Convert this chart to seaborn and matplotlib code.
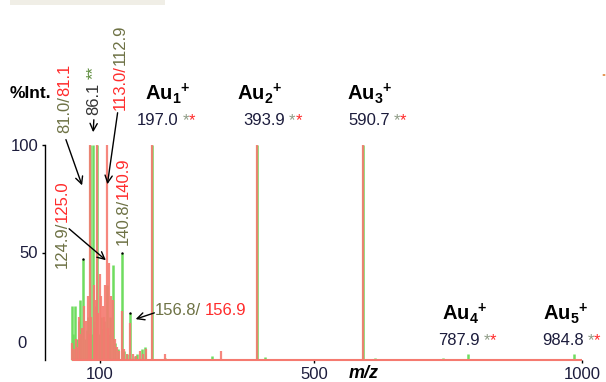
import matplotlib
matplotlib.use("Agg")
import numpy as np
import pandas as pd
import matplotlib.pyplot as plt
from matplotlib.patches import Rectangle, Circle
import seaborn as sns

# -------------------------
# spectra (m/z, %Int.)
# -------------------------
green_mz = [48, 50, 54, 57, 60, 62, 65, 68.3, 72, 75, 78, 81.0, 84, 86.1, 89, 92, 95, 98, 101, 104,
            108, 112.9, 116, 118, 124.9, 128, 133, 140.8, 145, 150, 156.8, 165, 170, 178, 184,
            197.0, 221, 310, 393.9, 408, 590.7, 614, 741, 787.9, 984.8]
green_int = [25, 12, 25, 10, 18, 28, 15, 47, 10, 14, 20, 100, 12, 100, 18, 25, 100, 12, 20, 15,
             18, 35, 12, 20, 44, 8, 5, 50, 4, 3, 22, 2, 3, 5, 6,
             100, 1, 2, 100, 1.5, 100, 1, 1, 3, 3]

red_mz = [48, 51, 55, 58, 60, 63, 66, 71, 74, 77, 79, 81.1, 83, 88, 90, 93, 95, 97, 100, 102,
          105, 107, 110, 113.0, 115, 117, 121, 125.0, 128, 132, 136, 140.9, 145, 150, 156.9,
          162, 168, 175, 180, 186, 197.0, 222, 326, 393.9, 590.7]
red_int = [8, 5, 10, 6, 20, 12, 15, 25, 18, 30, 12, 100, 20, 35, 15, 28, 100, 22, 40, 30,
           25, 20, 35, 100, 15, 45, 30, 28, 10, 6, 4, 23, 5, 3, 17,
           3, 2, 4, 3, 5, 100, 3, 4, 100, 100]

scan_range = [48, 1000]
dotted_peaks = [68.3, 140.8, 156.8]

au_n = [1, 2, 3, 4, 5]
au_mz = ["197.0", "393.9", "590.7", "787.9", "984.8"]

x_ticks = [100, 500, 1000]
y_ticks = [50, 100]

df = pd.concat([
    pd.DataFrame({"mz": green_mz, "intensity": green_int, "spectrum": "green"}),
    pd.DataFrame({"mz": red_mz, "intensity": red_int, "spectrum": "red"}),
])

# -------------------------
# style
# -------------------------
sns.set_theme(style="ticks")
plt.rcParams["font.family"] = ["Liberation Sans", "DejaVu Sans"]
plt.rcParams["mathtext.fontset"] = "custom"
plt.rcParams["mathtext.rm"] = "Liberation Sans"
plt.rcParams["mathtext.bf"] = "Liberation Sans:bold"

NAVY = "#1c1c3c"
OLIVE = "#6e7245"
RED = "#ff2b2b"
DARK = "#333333"
GREY_STAR = "#8f9c86"
palette = {"green": "#6fdc5f", "red": "#f57a70"}

W, H = 606, 382
fig = plt.figure(figsize=(W / 100, H / 100), dpi=100)
fig.patch.set_facecolor("white")
ax = fig.add_axes([45 / W, (H - 360) / H, (W - 45) / W, 215 / H])
ax.set_facecolor("white")

PX, MZ0 = 0.5357, 46.4
ax.set_xlim((45 - MZ0) / PX, (W - MZ0) / PX)
ax.set_ylim(0, 100)

for name, alpha, lw in [("green", 1.0, 1.8), ("red", 0.9, 1.6)]:
    sub = df[df.spectrum == name]
    ax.vlines(sub.mz, 0, sub.intensity, color=palette[name], lw=lw, alpha=alpha,
              clip_on=False, zorder=2)
ax.hlines(0, scan_range[0], scan_range[1], color=palette["red"], lw=1.5, clip_on=False, zorder=3)

dots = df[(df.spectrum == "green") & (df.mz.isin(dotted_peaks))]
sns.scatterplot(data=dots, x="mz", y="intensity", ax=ax, color="black", s=3,
                linewidth=0, legend=False, zorder=5, clip_on=False)

sns.despine(ax=ax, bottom=True)
ax.spines["left"].set_color("black")
ax.spines["left"].set_linewidth(1.0)
ax.set_xticks(x_ticks)
ax.set_xticklabels([str(v) for v in x_ticks])
ax.set_yticks(y_ticks)
ax.set_yticklabels([str(v) for v in y_ticks])
ax.tick_params(axis="both", colors="black", labelcolor=NAVY, labelsize=12,
               length=2.5, width=1, pad=2.5, direction="out")
ax.set_xlabel("")
ax.set_ylabel("")
ax.grid(False)

fig.text(17 / W, 1 - 343 / H, "0", ha="left", va="center", fontsize=12, color=NAVY)
fig.text(10 / W, 1 - 98 / H, "%Int.", ha="left", va="baseline", fontsize=12.5,
         fontweight="bold", color="black")
fig.text(364 / W, 1 - 373 / H, "m/z", ha="center", va="center", fontsize=13,
         fontweight="bold", fontstyle="italic", color="black")

# -------------------------
# annotations
# -------------------------
renderer = fig.canvas.get_renderer()


def chain(x, y, parts, rot=False, size=12):
    cx, cy = x, H - y
    for s, c, gap in parts:
        if rot:
            t = fig.text(cx / W, cy / H, s, color=c, rotation=90, ha="center",
                         va="bottom", fontsize=size)
            cy = t.get_window_extent(renderer).y1 + gap
        else:
            t = fig.text(cx / W, cy / H, s, color=c, ha="left", va="baseline",
                         fontsize=size)
            cx = t.get_window_extent(renderer).x1 + gap


chain(65, 133, [("81.0/", OLIVE, 0), ("81.1", RED, 0)], rot=True)
chain(93.5, 115, [("86.1", DARK, 4), ("**", "#5b8a3a", 0)], rot=True)
chain(120.5, 110, [("113.0/", RED, 0), ("112.9", OLIVE, 0)], rot=True)
chain(62, 268, [("124.9/", OLIVE, 0), ("125.0", RED, 0)], rot=True)
chain(123, 245, [("140.8/", OLIVE, 0), ("140.9", RED, 0)], rot=True)
chain(155, 315, [("156.8/", OLIVE, 4), ("156.9", RED, 0)])

arrows = [((65, 137), (83, 188)), ((94, 117), (93, 135)), ((118, 110), (107, 187)),
          ((67, 227), (108, 262)), ((157, 312), (133, 320))]
for (x0, y0), (x1, y1) in arrows:
    fig.add_artist(matplotlib.patches.FancyArrowPatch(
        (x0 / W, 1 - y0 / H), (x1 / W, 1 - y1 / H), transform=fig.transFigure,
        arrowstyle="->", mutation_scale=13, color="black", lw=1.0))

au_x = [145, 237, 347, 442, 543]
num_x = [137, 243, 348, 438, 542]
for n, m, xa, xn in zip(au_n, au_mz, au_x, num_x):
    base = 100 if n <= 3 else 320
    fig.text(xa / W, 1 - base / H, r"$\mathbf{Au}_{\mathbf{%d}}{}^{\mathbf{+}}$" % n,
             ha="left", va="baseline", fontsize=14.5, color="black")
    chain(xn, base + 25, [(m, NAVY, 4), ("*", GREY_STAR, 0), ("*", RED, 0)])

fig.add_artist(Rectangle((10 / W, 1 - 5 / H), 155 / W, 5 / H, transform=fig.transFigure,
                         facecolor="#f0eee6", edgecolor="none"))
fig.add_artist(Circle((604 / W, 1 - 75 / H), 1.5 / W, transform=fig.transFigure,
                      facecolor="#e08a40", edgecolor="none"))

fig.savefig("out.png", dpi=100)
